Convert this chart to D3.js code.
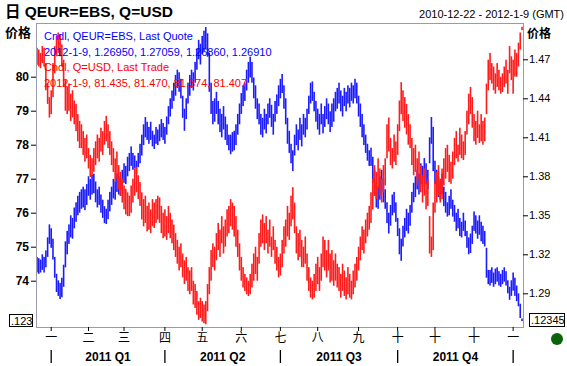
<!DOCTYPE html>
<html><head><meta charset="utf-8">
<script src="https://cdn.jsdelivr.net/npm/d3@7"></script>
<style>
html,body{margin:0;padding:0;background:#fff;}
text{font-family:"Liberation Sans",Arial,"Noto Sans CJK SC",sans-serif;}
</style></head><body>
<svg id="c" width="567" height="366"></svg>
<script>
// ---------- data ----------
const startDate = "2010-12-22", endDate = "2012-01-09";
const monthLabels = ["一","二","三","四","五","六","七","八","九","十","十","十","一"];
const quarterLabels = ["2011 Q1","2011 Q2","2011 Q3","2011 Q4"];
const leftTicks = [74,75,76,77,78,79,80];
const rightTicks = [1.29,1.32,1.35,1.38,1.41,1.44,1.47];
const legendLines = ["Cndl, QEUR=EBS, Last Quote","2012-1-9, 1.26950, 1.27059, 1.26860, 1.26910","Cndl, Q=USD, Last Trade","2012-1-9, 81.435, 81.470, 81.374, 81.407"];

const usdHigh = [80.85,80.80,80.70,80.90,80.85,80.40,79.80,79.40,
79.60,80.40,80.90,81.20,81.30,81.25,80.95,80.50,
79.90,79.70,79.80,79.50,79.60,79.30,79.20,78.90,78.70,78.60,78.40,78.20,78.30,77.90,77.70,77.60,77.90,
78.10,78.30,78.20,78.50,78.40,78.70,78.85,78.60,
78.40,78.10,77.90,77.60,77.80,77.40,77.20,
77.00,76.80,76.70,76.60,76.50,76.80,77.00,77.30,77.35,77.10,76.90,
76.60,76.40,76.50,76.20,76.30,76.10,76.40,
76.30,76.40,76.50,76.45,76.20,76.00,76.10,75.90,76.20,76.00,75.80,
75.65,75.40,75.20,75.00,75.10,74.80,74.60,74.70,74.40,
74.30,74.40,74.00,73.90,73.70,73.40,73.50,73.40,73.30,73.40,
73.90,74.40,74.90,75.10,75.00,
75.40,75.70,75.50,75.90,75.60,75.80,76.10,76.20,76.40,76.30,
76.20,75.90,
75.50,75.10,74.70,74.40,74.20,74.10,74.00,74.20,74.50,
74.80,75.00,74.70,75.40,75.80,75.95,
75.70,75.90,75.50,75.80,75.30,75.60,75.20,75.00,
74.70,74.80,75.20,
75.60,75.80,76.20,76.00,76.50,76.75,76.30,
75.60,75.40,75.50,75.20,75.00,75.30,
74.80,74.40,74.10,74.00,74.20,74.50,74.70,74.40,
74.80,75.30,75.20,74.90,75.20,74.80,
74.90,74.60,74.80,74.50,
74.40,74.20,74.50,74.30,74.10,74.40,74.20,74.00,74.30,74.50,74.70,
75.00,75.30,75.60,75.50,75.80,76.00,76.20,76.60,
77.00,77.40,77.20,77.60,77.30,77.00,77.40,77.60,
78.60,78.80,78.20,77.90,78.30,78.10,78.60,
79.30,79.84,79.60,
79.40,79.20,78.90,78.60,
78.20,77.90,78.00,77.60,77.80,77.40,77.10,77.30,76.90,77.00,
75.90,75.30,76.30,
76.90,77.20,77.40,77.00,77.30,
77.60,77.90,78.00,77.70,77.50,77.80,
78.20,78.40,78.00,78.50,78.30,78.10,78.40,
79.00,79.50,79.70,79.40,
78.90,78.70,79.00,78.60,78.90,78.70,78.80,
79.80,80.50,80.70,80.40,
80.30,80.10,80.40,80.20,80.00,80.10,80.30,80.50,80.20,
80.90,80.60,80.50,80.80,80.70,81.00,
81.30,81.47];

const usdLow = [80.35,80.30,80.25,80.40,80.30,79.60,79.20,78.80,
78.90,79.40,80.10,80.60,80.70,80.60,80.30,79.70,
79.00,78.90,79.00,78.70,78.80,78.60,78.40,78.10,77.90,77.90,77.70,77.50,77.60,77.30,77.05,77.10,77.20,
77.40,77.60,77.50,77.80,77.70,78.00,78.10,77.90,
77.70,77.40,77.20,76.90,77.00,76.70,76.50,
76.30,76.10,75.95,75.90,75.90,76.00,76.30,76.50,76.60,76.40,76.20,
75.80,75.60,75.70,75.45,75.50,75.40,75.60,
75.55,75.70,75.80,75.70,75.40,75.25,75.30,75.20,75.40,75.25,75.10,
74.90,74.70,74.50,74.30,74.40,74.10,73.90,74.00,73.70,
73.60,73.70,73.30,73.20,73.00,72.85,72.90,72.80,72.75,72.72,
73.10,73.60,74.00,74.40,74.30,
74.60,74.90,74.70,75.10,74.80,75.00,75.30,75.40,75.60,75.50,
75.30,75.00,
74.70,74.30,74.00,73.80,73.70,73.60,73.55,73.60,73.80,
74.00,74.20,74.00,74.50,75.00,75.10,
74.90,75.10,74.80,75.00,74.70,74.90,74.50,74.30,
74.10,74.15,74.40,
74.80,75.00,75.30,75.20,75.60,75.80,75.40,
74.80,74.60,74.70,74.40,74.40,74.50,
74.00,73.70,73.50,73.45,73.50,73.70,73.90,73.70,
74.00,74.40,74.30,74.10,74.30,73.95,
74.00,73.85,74.00,73.80,
73.70,73.50,73.70,73.55,73.45,73.60,73.50,73.45,73.60,73.80,74.00,
74.30,74.60,74.90,74.80,75.10,75.30,75.50,75.70,
76.10,76.50,76.40,76.70,76.50,76.30,76.60,76.80,
77.60,77.80,77.40,77.30,77.50,77.40,77.70,
78.40,78.90,78.70,
78.50,78.30,78.00,77.90,
77.40,77.10,77.20,76.80,77.00,76.60,76.30,76.50,76.10,76.20,
74.80,74.70,74.90,
76.00,76.30,76.50,76.30,76.40,
76.80,77.00,77.20,76.90,76.85,77.00,
77.40,77.60,77.50,77.70,77.60,77.55,77.70,
78.30,78.60,78.90,78.50,
78.10,78.00,78.20,78.05,78.10,78.00,78.10,
78.90,79.60,79.90,79.80,
79.60,79.50,79.70,79.60,79.50,79.55,79.70,79.80,79.50,
80.10,79.90,79.50,80.00,80.00,80.30,
80.80,81.37];

const eurHigh = [1.318,1.317,1.316,1.320,1.318,1.323,1.333,
1.343,1.340,1.332,
1.318,1.305,1.300,1.298,1.302,1.312,1.330,
1.338,1.343,1.350,1.348,1.356,1.360,1.365,1.368,1.370,
1.372,1.370,1.374,1.380,1.378,1.381,1.382,1.376,1.370,1.372,1.366,
1.362,1.357,1.355,1.362,
1.368,1.372,1.378,1.376,1.382,1.380,1.378,1.385,1.390,1.388,1.395,1.398,1.403,1.398,
1.396,1.392,1.398,
1.405,1.412,1.420,1.4256,1.422,
1.418,1.422,1.415,1.412,1.418,1.416,1.420,1.424,1.421,1.418,
1.426,1.434,1.440,1.446,1.452,
1.458,1.462,1.460,1.455,1.442,1.432,1.440,1.452,
1.458,1.462,1.460,1.468,1.478,1.485,1.482,1.488,1.492,1.4948,1.490,
1.475,1.452,1.438,
1.440,1.445,1.438,1.432,1.428,1.434,1.426,1.420,1.412,1.412,1.414,
1.415,1.420,
1.428,1.436,1.444,1.450,1.452,
1.462,1.468,1.472,1.468,
1.456,1.450,1.440,1.436,1.428,1.425,
1.432,1.428,1.436,1.440,1.435,1.428,1.438,1.443,
1.450,1.455,1.4587,
1.450,1.440,1.425,1.415,1.405,1.400,
1.412,1.420,1.416,1.425,1.420,1.428,1.425,1.432,
1.442,1.452,1.453,
1.445,1.438,1.432,1.428,1.436,1.428,1.434,1.440,1.436,1.430,
1.436,1.440,1.445,
1.448,1.452,1.446,1.442,1.448,1.445,1.450,1.448,1.452,1.450,1.455,1.452,
1.442,1.436,1.428,1.420,1.412,1.405,1.400,1.402,
1.395,1.385,1.375,1.372,1.380,1.385,1.378,1.370,
1.360,1.352,1.358,1.366,1.368,1.360,1.348,
1.340,1.332,
1.342,1.348,1.355,1.352,1.358,
1.368,1.375,1.380,1.385,1.382,1.390,1.388,1.394,1.390,1.385,
1.410,1.4256,1.418,
1.392,1.385,1.380,1.376,1.382,
1.372,1.368,1.360,1.365,1.370,1.362,
1.358,1.352,1.355,1.348,1.345,1.352,1.346,
1.338,1.333,1.336,1.342,
1.353,1.350,1.346,1.350,1.345,1.342,1.338,
1.325,1.308,
1.308,1.310,1.306,1.309,1.310,1.307,1.305,1.308,1.310,1.307,1.300,
1.295,1.300,1.306,1.302,1.296,1.290,
1.282,1.2706];

const eurLow = [1.306,1.305,1.306,1.308,1.306,1.310,1.318,
1.328,1.325,1.316,
1.302,1.291,1.288,1.2856,1.287,1.295,1.310,
1.320,1.328,1.333,1.332,1.340,1.345,1.350,1.352,1.355,
1.356,1.354,1.358,1.365,1.362,1.366,1.367,1.360,1.356,1.358,1.352,
1.348,1.344,1.3433,1.347,
1.353,1.358,1.363,1.362,1.368,1.366,1.365,1.370,1.375,1.374,1.380,1.384,1.388,1.385,
1.386,1.382,1.387,
1.390,1.396,1.404,1.410,1.408,
1.405,1.408,1.403,1.401,1.405,1.404,1.407,1.410,1.408,1.405,
1.412,1.420,1.426,1.432,1.438,
1.442,1.448,1.445,1.440,1.425,1.415,1.424,1.436,
1.442,1.448,1.446,1.452,1.462,1.470,1.466,1.474,1.476,1.478,1.472,
1.445,1.428,1.420,
1.422,1.428,1.420,1.414,1.410,1.416,1.408,1.404,1.400,1.397,1.399,
1.400,1.404,
1.412,1.420,1.428,1.434,1.438,
1.446,1.452,1.456,1.452,
1.440,1.432,1.424,1.420,1.412,1.410,
1.416,1.413,1.420,1.425,1.418,1.412,1.422,1.428,
1.434,1.440,1.444,
1.432,1.420,1.405,1.398,1.390,1.384,
1.396,1.404,1.400,1.408,1.403,1.412,1.410,1.416,
1.428,1.436,1.438,
1.430,1.422,1.416,1.412,1.420,1.413,1.418,1.424,1.420,1.414,
1.418,1.422,1.430,
1.432,1.436,1.430,1.426,1.434,1.430,1.436,1.433,1.438,1.436,1.440,1.436,
1.426,1.418,1.410,1.404,1.398,1.392,1.388,1.388,
1.375,1.365,1.356,1.355,1.362,1.368,1.360,1.355,
1.344,1.336,1.342,1.350,1.352,1.345,1.334,
1.320,1.315,
1.326,1.333,1.338,1.336,1.342,
1.352,1.360,1.364,1.370,1.366,1.374,1.372,1.378,1.374,1.370,
1.390,1.405,1.384,
1.374,1.368,1.364,1.362,1.366,
1.357,1.352,1.349,1.350,1.355,1.349,
1.345,1.338,1.340,1.334,1.333,1.338,1.334,
1.325,1.320,1.321,1.328,
1.338,1.336,1.332,1.335,1.330,1.328,1.326,
1.302,1.297,
1.296,1.298,1.295,1.297,1.299,1.296,1.295,1.297,1.299,1.296,1.290,
1.285,1.288,1.292,1.288,1.284,1.280,
1.271,1.2686];

// ---------- chart ----------
const svg = d3.select("#c");
const L = 36, R = 523, T = 23, B = 327;
const parse = d3.timeParse("%Y-%m-%d");
const days = d3.timeDay.range(parse(startDate), d3.timeDay.offset(parse(endDate), 1))
  .filter(d => d.getDay() !== 0 && d.getDay() !== 6);
const idx = d3.range(days.length);

const x = d3.scaleBand().domain(idx).range([L, R]).paddingInner(0.1).paddingOuter(0.1);
const yL = d3.scaleLinear().domain([74, 80]).range([280.7, 76.7]);
const yR = d3.scaleLinear().domain([1.29, 1.47]).range([293.3, 59.3]);

svg.append("rect").attr("width", 567).attr("height", 366).attr("fill", "#fff");

// month starts
const monthStarts = idx.filter(i => i === 0 ? false : days[i].getMonth() !== days[i-1].getMonth());
const quarterStarts = monthStarts.filter(i => days[i].getMonth() % 3 === 0);

// bars
const bw = x.bandwidth();
function drawSeries(hi, lo, y, color) {
  svg.append("g").selectAll("rect").data(idx).join("rect")
    .attr("x", i => x(i) + x.bandwidth()/2 - bw/2)
    .attr("width", bw)
    .attr("y", i => y(hi[i]))
    .attr("height", i => Math.max(1, y(lo[i]) - y(hi[i])))
    .attr("fill", color);
}
drawSeries(eurHigh, eurLow, yR, "#1c1cff");
drawSeries(usdHigh, usdLow, yL, "#ff1c1c");

// frame
svg.append("rect").attr("x", L + 0.5).attr("y", T + 0.5).attr("width", R - L).attr("height", B - T)
  .attr("fill", "none").attr("stroke", "#9a9aae").attr("stroke-width", 1);

// legend
const lg = svg.append("g").attr("font-size", 11);
legendLines.forEach((t, k) => {
  lg.append("text").attr("x", 44).attr("y", 40 + k * 15.6).text(t)
    .attr("fill", k < 2 ? "#0000ff" : "#ff0000");
});

// left axis
const ax1 = svg.append("g").attr("transform", `translate(${L},0)`)
  .call(d3.axisLeft(yL).tickValues(leftTicks).tickSize(5).tickPadding(2).tickFormat(d3.format("d")));
ax1.select(".domain").remove();
ax1.selectAll("text").attr("font-size", 12).attr("font-weight", "bold").attr("fill", "#000")
  .attr("font-family", "Liberation Sans, Arial, sans-serif");
ax1.selectAll("line").attr("stroke", "#000");

// right axis
const ax2 = svg.append("g").attr("transform", `translate(${R},0)`)
  .call(d3.axisRight(yR).tickValues(rightTicks).tickSize(5).tickPadding(1).tickFormat(d3.format(".2f")));
ax2.select(".domain").remove();
ax2.selectAll("text").attr("font-size", 11).attr("fill", "#000")
  .attr("font-family", "Liberation Sans, Arial, sans-serif");
ax2.selectAll("line").attr("stroke", "#000");

// bottom axis (months)
const ax3 = svg.append("g").attr("transform", `translate(0,${B})`)
  .call(d3.axisBottom(x).tickValues(monthStarts).tickSize(4).tickPadding(2)
    .tickFormat((d, i) => monthLabels[i]));
ax3.select(".domain").remove();
ax3.selectAll("text").attr("font-size", 12).attr("fill", "#000")
  .attr("font-family", "Noto Sans CJK SC, sans-serif");
ax3.selectAll("line").attr("stroke", "#000");

// quarter separators and labels
svg.append("g").selectAll("line").data(quarterStarts).join("line")
  .attr("x1", i => x(i) + x.bandwidth()/2).attr("x2", i => x(i) + x.bandwidth()/2)
  .attr("y1", 350).attr("y2", 363).attr("stroke", "#000").attr("stroke-width", 1.3);
svg.append("g").selectAll("text").data(quarterLabels).join("text")
  .attr("x", (d, k) => (x(quarterStarts[k]) + x(quarterStarts[k+1])) / 2 + x.bandwidth()/2)
  .attr("y", 361).attr("text-anchor", "middle").attr("font-size", 12).attr("font-weight", "bold")
  .text(d => d);

// titles
svg.append("text").attr("x", 5).attr("y", 17).attr("font-size", 15.5).attr("font-weight", "bold")
  .text("日 QEUR=EBS, Q=USD");
svg.append("text").attr("x", 564).attr("y", 18).attr("font-size", 11).attr("text-anchor", "end")
  .text("2010-12-22 - 2012-1-9 (GMT)");
svg.append("text").attr("x", 5).attr("y", 37).attr("font-size", 13).attr("font-weight", "bold")
  .attr("font-family", "Noto Sans CJK SC, sans-serif").text("价格");
svg.append("text").attr("x", 527).attr("y", 38).attr("font-size", 12).attr("font-weight", "bold")
  .attr("font-family", "Noto Sans CJK SC, sans-serif").text("价格");

// value boxes
svg.append("rect").attr("x", 9.5).attr("y", 314.5).attr("width", 23).attr("height", 12)
  .attr("fill", "#fff").attr("stroke", "#000");
svg.append("text").attr("x", 11).attr("y", 324.5).attr("font-size", 11).text(".123");
svg.append("rect").attr("x", 529.5).attr("y", 313.5).attr("width", 35).attr("height", 13)
  .attr("fill", "#fff").attr("stroke", "#000");
svg.append("text").attr("x", 531).attr("y", 324).attr("font-size", 11).text(".12345");

// status dot
svg.append("circle").attr("cx", 557).attr("cy", 339).attr("r", 6).attr("fill", "#0a640a");
</script>
</body></html>
